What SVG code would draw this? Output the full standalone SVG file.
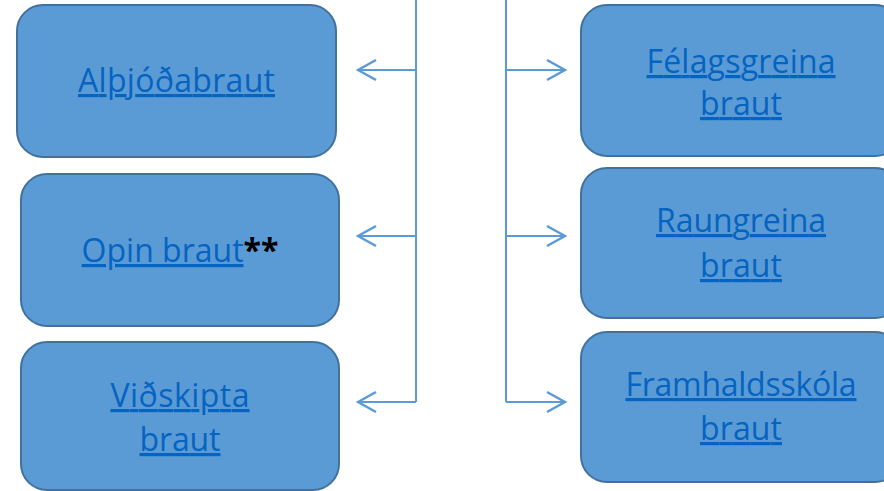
<svg xmlns="http://www.w3.org/2000/svg" width="884" height="491" viewBox="0 0 884 491">
<defs>
<style>
.box{fill:#5b9bd5;stroke:#41719c;stroke-width:2}
.lbl{font-family:"Open Sans","Liberation Sans",sans-serif;font-size:32px;fill:#0563c1;text-anchor:middle}
.u{text-decoration:underline}
.plain{fill:#000000;font-weight:bold}
.con{fill:none;stroke:#5b9bd5;stroke-width:2}
</style>
<marker id="arr" viewBox="0 0 22 24" refX="20" refY="12" markerWidth="22" markerHeight="24" markerUnits="userSpaceOnUse" orient="auto">
<path d="M2,2 L20,12 L2,22" fill="none" stroke="#5b9bd5" stroke-width="2.5"/>
</marker>
</defs>
<rect width="884" height="491" fill="#ffffff"/>
<g id="connectors">
<path class="con" d="M416,0 V402"/>
<path class="con" d="M506,0 V402"/>
<path class="con" d="M416,70 H358" marker-end="url(#arr)"/>
<path class="con" d="M416,236 H358" marker-end="url(#arr)"/>
<path class="con" d="M416,402 H358" marker-end="url(#arr)"/>
<path class="con" d="M506,70 H565" marker-end="url(#arr)"/>
<path class="con" d="M506,236 H565" marker-end="url(#arr)"/>
<path class="con" d="M506,402 H565" marker-end="url(#arr)"/>
</g>
<g id="node-althjodabraut">
<rect class="box" x="17" y="5" width="319" height="152" rx="26"/>
<text class="lbl u" x="176.5" y="92" textLength="197">Alþjóðabraut</text>
</g>
<g id="node-opin">
<rect class="box" x="21" y="174" width="318" height="152" rx="26"/>
<text class="lbl" x="180" y="262"><tspan class="u">Opin braut</tspan><tspan class="plain">**</tspan></text>
</g>
<g id="node-vidskipta">
<rect class="box" x="21" y="342" width="318" height="148" rx="26"/>
<text class="lbl u" x="180" y="407" textLength="139">Viðskipta</text>
<text class="lbl u" x="180" y="451" textLength="81">braut</text>
</g>
<g id="node-felagsgreina">
<rect class="box" x="581" y="5" width="320" height="151" rx="26"/>
<text class="lbl u" x="741" y="73" textLength="189">Félagsgreina</text>
<text class="lbl u" x="741" y="115" textLength="82">braut</text>
</g>
<g id="node-raungreina">
<rect class="box" x="581" y="168" width="320" height="150" rx="26"/>
<text class="lbl u" x="741" y="232" textLength="170">Raungreina</text>
<text class="lbl u" x="741" y="277" textLength="82">braut</text>
</g>
<g id="node-framhaldsskola">
<rect class="box" x="581" y="332" width="320" height="150" rx="26"/>
<text class="lbl u" x="741" y="396" textLength="231">Framhaldsskóla</text>
<text class="lbl u" x="741" y="440" textLength="82">braut</text>
</g>
</svg>
